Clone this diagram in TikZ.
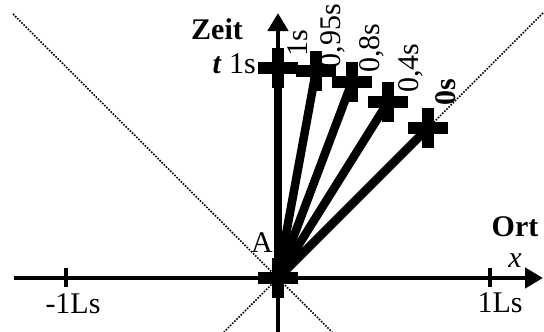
\documentclass[tikz,border=0pt]{standalone}
\usepackage{fontspec}
\setmainfont{Liberation Serif}
\usetikzlibrary{arrows.meta}
\begin{document}
\begin{tikzpicture}[x=1pt,y=-1pt,
  lbl/.style={font=\fontsize{30}{34}\selectfont, inner sep=0pt},
  axisline/.style={line width=4.5pt, -{Triangle[length=18pt,width=20pt]}},
  tickmark/.style={line width=4pt},
  lightline/.style={line width=1.6pt, dash pattern=on 1.6pt off 1.4pt},
  worldline/.style={line width=8.5pt},
  plusmark/.pic={\fill (-20,-6) rectangle (20,6); \fill (-6,-20) rectangle (6,20);}]
\useasboundingbox (0,0) rectangle (544,332);
\coordinate (O) at (278,278);
\coordinate (c1) at (278,68);
\coordinate (c2) at (316,71);
\coordinate (c3) at (352,82);
\coordinate (c4) at (388,102);
\coordinate (c5) at (428,128);
\coordinate (l1a) at (13,14);
\coordinate (l1b) at (332,332);
\coordinate (l2a) at (543,13);
\coordinate (l2b) at (224,332);
\coordinate (xs) at (14,278);
\coordinate (xe) at (543,278);
\coordinate (ts) at (278,332);
\coordinate (te) at (278,13);
\coordinate (tm1a) at (66,268);
\coordinate (tm1b) at (66,287);
\coordinate (tp1a) at (490,268);
\coordinate (tp1b) at (490,287);
% light lines
\draw[lightline] (l1a) -- (l1b);
\draw[lightline] (l2a) -- (l2b);
% axes
\draw[axisline] (xs) -- (xe);
\draw[axisline] (ts) -- (te);
\draw[tickmark] (tm1a) -- (tm1b);
\draw[tickmark] (tp1a) -- (tp1b);
% world lines
\foreach \c in {c1,c2,c3,c4,c5} \draw[worldline] (O) -- (\c);
\foreach \c in {O,c1,c2,c3,c4,c5} \pic at (\c) {plusmark};
% labels
\node[lbl, anchor=base] (zeit) at (217,39) {\textbf{Zeit}};
\node[lbl, anchor=base east] (tlab) at (256,73) {\textbf{\textit{t}} 1s};
\node[lbl, anchor=base] (alab) at (262,252) {A};
\node[lbl, anchor=base] (ort) at (515,236) {\textbf{Ort}};
\node[lbl, anchor=base] (xlab) at (515,267) {\textit{x}};
\node[lbl, anchor=base] (m1ls) at (73,313) {-1Ls};
\node[lbl, anchor=base] (p1ls) at (500,312) {1Ls};
\node[lbl, rotate=90] (s1) at (298,43) {1s};
\node[lbl, rotate=90] (s2) at (333,36) {0,95s};
\node[lbl, rotate=90] (s3) at (372,48) {0,8s};
\node[lbl, rotate=90] (s4) at (411,68) {0,4s};
\node[lbl, rotate=90] (s5) at (446,92) {\textbf{0s}};
\end{tikzpicture}
\end{document}
